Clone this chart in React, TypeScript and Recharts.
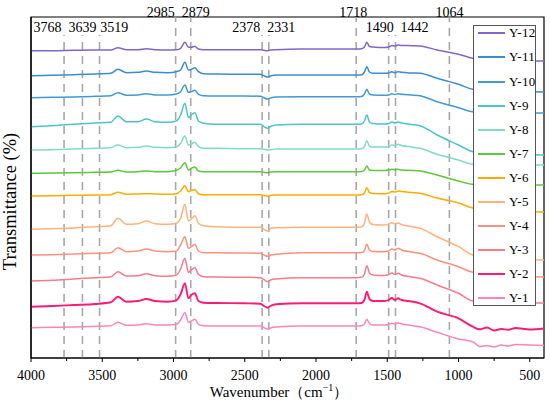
import React from 'react';
import { LineChart, Line, XAxis, YAxis, ReferenceLine, ReferenceArea, Legend } from 'recharts';

const WAVENUMBERS = [
  4000, 3850, 3700, 3550, 3440, 3390, 3330, 3250, 3190, 3130,
  3040, 2980, 2950, 2920, 2895, 2875, 2850, 2825, 2790, 2700,
  2500, 2390, 2365, 2340, 2315, 2280, 2100, 1900, 1720, 1680,
  1660, 1643, 1625, 1600, 1520, 1490, 1468, 1445, 1424, 1400,
  1330, 1270, 1150, 1000, 900, 850, 800, 750, 700, 650,
  600, 500, 400,
];

const Y12 = [
  307.3, 307.3, 307.7, 308, 308, 310.3, 308.3, 308.3, 309.3, 308.3,
  308, 308.3, 309.7, 315.7, 310.7, 310.7, 311.7, 309, 308.3, 308.3,
  308.3, 308.3, 307.7, 307.3, 308, 308.3, 309, 309, 309, 309.3,
  311, 315.7, 311.5, 311, 310.5, 311, 312.5, 312, 313, 312.5,
  312.3, 312, 308, 303.7, 299.7, 298.5, 298, 297.7, 297.5, 297.4,
  297.3, 297, 297,
];
const Y11 = [
  282.3, 282.7, 283.3, 284, 284.7, 288.7, 285.3, 285.7, 287, 285.7,
  285.3, 286.3, 288, 295.7, 288, 288.7, 290.3, 286.3, 284.3, 284,
  283.7, 283.7, 282.3, 281, 282.3, 283, 283, 283, 283, 283.3,
  286, 291.3, 286, 284.7, 284.7, 285, 286.3, 285.3, 286.3, 285.7,
  285, 284.7, 279.7, 273.7, 268.7, 268, 267.5, 267, 266.7, 266.6,
  266.5, 266.2, 266,
];
const Y10 = [
  260.3, 260.7, 261, 261.7, 262.3, 265.3, 262.7, 263, 264.3, 263,
  263, 264, 266.3, 273, 265.7, 266.3, 267.7, 263.7, 262.3, 262,
  262, 261.7, 260.3, 259, 260.3, 261, 261.3, 261.3, 261.3, 261.5,
  264, 268.7, 264, 263, 262.7, 263, 264.3, 263.5, 264.3, 263.7,
  263, 262.3, 256.3, 250.3, 246.3, 246, 245.8, 245.6, 245.4, 245.3,
  245.2, 245, 245,
];
const Y9 = [
  231.3, 232.3, 233.7, 235, 235.7, 242, 236.3, 236.3, 239, 236.3,
  235.7, 237, 243, 254.7, 240.3, 243, 245.3, 237, 234.7, 233.7,
  233.7, 233.7, 231.3, 229.7, 231.7, 233, 233.7, 233.7, 233.7, 234,
  237, 243, 236, 234.5, 234, 234.5, 236, 235, 236, 235,
  233.5, 232.3, 223, 213, 206.3, 205.5, 205, 204.5, 204, 203.8,
  203.7, 203.3, 203,
];
const Y8 = [
  208, 208.3, 209, 209.7, 210.3, 213, 210.3, 210.7, 212, 210.7,
  210.3, 211, 214.7, 222, 213, 214, 215.7, 211.3, 209.7, 209.7,
  209.3, 209.3, 208.7, 208, 208.3, 209, 209, 209, 209, 209.3,
  211.5, 217.3, 212, 211, 211, 211.5, 213, 212.5, 213.7, 212.5,
  211, 209.7, 203.7, 198, 193.7, 193.5, 193.3, 193.2, 193.1, 193,
  193, 193, 193,
];
const Y7 = [
  184.7, 185, 185.3, 185.7, 186, 187.7, 186, 186.3, 187, 186.3,
  186.3, 187.7, 190.3, 195.3, 188, 189.7, 191, 187, 186.3, 186.3,
  186.3, 186.3, 185.7, 185.3, 186, 186.3, 186.3, 186.3, 186.3, 186.5,
  188, 192, 188, 187.5, 187.5, 188, 188.7, 188.3, 188.7, 188,
  187.5, 187, 183, 177, 173.7, 173.5, 173.3, 173.2, 173.1, 173,
  173, 173, 173,
];
const Y6 = [
  162, 162.3, 162.7, 163, 163.3, 165.7, 163.7, 164, 164.3, 164,
  163.7, 164.3, 167, 172.3, 166.3, 167.7, 168.3, 164.3, 163.3, 163.3,
  163.3, 163.3, 162.3, 161.7, 162.7, 163, 163, 163, 163, 163.2,
  165, 170.3, 165.5, 164.5, 164.3, 165, 166.5, 166, 167, 166.5,
  165.5, 164.7, 160, 155, 150, 149, 148.3, 147.7, 147.2, 147,
  146.7, 146.3, 146,
];
const Y5 = [
  128.7, 129.3, 130, 131.3, 132.3, 139.7, 133.7, 134.3, 137, 134.3,
  133.7, 134.7, 139.7, 153.7, 137, 139, 142.3, 134.7, 132.3, 131.3,
  130.7, 130.7, 128.7, 127, 129.7, 130.3, 130.7, 130.7, 130.7, 131,
  135, 144, 136, 133.5, 133, 134, 135.3, 134, 135, 133.5,
  131.5, 129.7, 121.3, 111.3, 103, 101.5, 100.5, 99.7, 99, 98.7,
  98.5, 98.2, 98,
];
const Y4 = [
  103, 103.3, 104, 104.7, 105.3, 110.3, 106.3, 107, 109, 107,
  106.3, 107, 113, 121.3, 109.7, 111.3, 113.7, 107, 105.3, 105.3,
  105, 104.7, 103, 101.7, 103, 103.7, 105.3, 105.3, 105.3, 105.5,
  107.5, 113.7, 108, 106.5, 106.3, 107, 109, 108, 109.7, 108,
  106, 104.7, 98, 91.3, 85.7, 84.5, 83.5, 82.7, 82, 81.7,
  81.5, 81.2, 81,
];
const Y3 = [
  77, 77.7, 79, 80.3, 81.3, 86.3, 82, 82.3, 84.3, 82.3,
  81.7, 83, 89, 99.7, 85.7, 88, 90.3, 83.7, 81.3, 81,
  80.7, 80.3, 78.3, 76.3, 78.3, 79, 80.3, 80.3, 80.3, 80.7,
  84, 92.3, 85, 83, 82.5, 83.5, 85, 83.5, 84.7, 83,
  81, 79.7, 73, 64.7, 57, 56.5, 56, 55.7, 55.5, 55.4,
  55.3, 55.1, 55,
];
const Y2 = [
  51.3, 52, 53, 54, 55.7, 61.3, 56.3, 57, 59, 57,
  56.3, 57.7, 63.7, 74.7, 59.7, 63, 64.7, 57, 55.3, 55,
  54.7, 54.3, 52, 50.3, 52.3, 53.7, 54.7, 54.7, 54.7, 55,
  58, 66.3, 59, 57, 57, 58, 60, 58, 59.7, 58,
  56.5, 54.7, 46.3, 39.7, 31.3, 28.7, 30.5, 27.5, 29, 28.3,
  30, 28.5, 29.5,
];
const Y1 = [
  30.3, 30.7, 31, 31.7, 32.3, 35.7, 32.7, 33, 34.3, 33,
  33, 33.7, 38, 45.3, 35.7, 37, 38.7, 33.7, 32.3, 32,
  32, 32, 30.3, 29, 30.3, 31, 32, 32, 32, 32.3,
  34, 38.7, 34.5, 33, 33, 33.5, 34.7, 34, 35, 34,
  32.5, 31.3, 25.7, 19, 16.3, 11.5, 12.5, 11, 13, 12,
  13.5, 13, 12.5,
];

const SERIES_NAMES = ['Y-1', 'Y-2', 'Y-3', 'Y-4', 'Y-5', 'Y-6', 'Y-7', 'Y-8', 'Y-9', 'Y-10', 'Y-11', 'Y-12'];
const SERIES_VALUES = [Y1, Y2, Y3, Y4, Y5, Y6, Y7, Y8, Y9, Y10, Y11, Y12];
const SERIES_COLORS = [
  '#ff85b8', '#ff1a78', '#f87a8c', '#fb927c', '#ffb27e', '#ffaa00',
  '#5cc83a', '#80dcc4', '#4cc4c8', '#3f9ad8', '#3a8cd8', '#8066cc',
];

const X_TICKS = [4000, 3750, 3500, 3250, 3000, 2750, 2500, 2250, 2000, 1750, 1500, 1250, 1000, 750, 500];
const PEAKS = [3768, 3639, 3519, 2985, 2879, 2378, 2331, 1718, 1490, 1442, 1064];
const PEAK_LABELS = ['3768', '3639', '3519', '2985', '2879', '2378', '2331', '1718', '1490', '1442', '1064'];
const PEAK_OUTSIDE = [false, false, false, true, true, false, false, true, false, false, true];

const PEAK_DX = [-16.5, 0, 14.6, -15, 5, -16, 12.5, -3, -9, 19, 0];

const Y_MAX = 341;
const INNER_TOP = 323;

const FONT = 'Liberation Serif, DejaVu Serif, serif';

const data = WAVENUMBERS.map((wn, i) => {
  const row: Record<string, number> = { wn };
  SERIES_NAMES.forEach((name, k) => {
    row[name] = SERIES_VALUES[k][i];
  });
  return row;
});

const XTick = (props: any) => {
  const { x, y, payload } = props;
  const major = payload.value % 500 === 0;
  return (
    <g>
      <line x1={x} x2={x} y1={y} y2={y + (major ? 4 : 3)} stroke="#000" strokeWidth={1} />
      {major && (
        <text x={x} y={y + 22} textAnchor="middle" style={{ fontFamily: FONT, fontSize: 14 }} fill="#000">
          {payload.value}
        </text>
      )}
    </g>
  );
};

const XTitle = (props: any) => {
  const vb = props.viewBox || { x: 31, y: 358, width: 513, height: 45 };
  const cx = vb.x + vb.width / 2 - 8.5;
  const cy = vb.y + 39;
  return (
    <text x={cx} y={cy} textAnchor="middle" style={{ fontFamily: FONT, fontSize: 15 }} fill="#000">
      <tspan>Wavenumber（cm</tspan>
      <tspan dy={-6} style={{ fontSize: 10 }}>−1</tspan>
      <tspan dy={6}>）</tspan>
    </text>
  );
};

const YTitle = (props: any) => {
  const vb = props.viewBox || { x: 0, y: 17, width: 31, height: 341 };
  const cx = vb.x + 15.5;
  const cy = vb.y + vb.height / 2 + 14;
  return (
    <text
      x={cx}
      y={cy}
      textAnchor="middle"
      style={{ fontFamily: FONT, fontSize: 18.5 }}
      fill="#000"
      transform={`rotate(-90, ${cx}, ${cy})`}
    >
      Transmittance (%)
    </text>
  );
};

const makePeakLabel = (text: string, dx: number, outside: boolean) => (props: any) => {
  const vb = props.viewBox || { x: 0, y: 0 };
  return (
    <text
      x={vb.x + dx}
      y={vb.y + (outside ? -0.5 : -3.5)}
      textAnchor="middle"
      style={{ fontFamily: FONT, fontSize: 14 }}
      fill="#000"
    >
      {text}
    </text>
  );
};

const LegendBox = () => {
  const items = SERIES_NAMES.map((name, i) => ({ name, color: SERIES_COLORS[i] })).reverse();
  return (
    <div
      style={{
        position: 'relative',
        width: 63,
        height: 281,
        boxSizing: 'border-box',
        border: '1px solid #555',
        background: '#fff',
      }}
    >
      {items.map((it, i) => (
        <div
          key={it.name}
          style={{
            position: 'absolute',
            left: 0,
            top: 8.3 + i * 24.1 - 1 - 8,
            height: 16,
            display: 'flex',
            alignItems: 'center',
            whiteSpace: 'nowrap',
          }}
        >
          <span style={{ display: 'inline-block', marginLeft: 4, width: 27, height: 2, background: it.color }} />
          <span
            style={{
              marginLeft: 4,
              fontFamily: FONT,
              fontSize: 13,
              color: '#000',
              letterSpacing: 0.3,
              lineHeight: '16px',
            }}
          >
            {it.name}
          </span>
        </div>
      ))}
    </div>
  );
};

export default function App() {
  return (
    <div style={{ position: 'absolute', left: 0, top: 0, width: 550, height: 403, background: '#fff' }}>
      <LineChart width={550} height={403} data={data} margin={{ top: 17, right: 6, bottom: 0, left: 0 }}>
        <XAxis
          dataKey="wn"
          type="number"
          domain={[400, 4000]}
          reversed
          ticks={X_TICKS}
          interval={0}
          tickLine={false}
          tickSize={0}
          tickMargin={0}
          tick={<XTick />}
          height={45}
          axisLine={{ stroke: '#000', strokeWidth: 1.2 }}
          allowDataOverflow
          label={<XTitle />}
        />
        <YAxis
          type="number"
          domain={[0, Y_MAX]}
          tick={false}
          tickLine={false}
          width={31}
          axisLine={{ stroke: '#000', strokeWidth: 1.2 }}
          allowDataOverflow
          label={<YTitle />}
        />
        <ReferenceArea
          x1={400}
          x2={4000}
          y1={0}
          y2={Y_MAX}
          fill="none"
          stroke="#000"
          strokeWidth={1.2}
          ifOverflow="visible"
        />
        {PEAKS.map((p, i) => (
          <ReferenceLine
            key={p}
            segment={[
              { x: p, y: 0 },
              { x: p, y: PEAK_OUTSIDE[i] ? Y_MAX : INNER_TOP },
            ]}
            stroke="#a8a8a8"
            strokeWidth={1.6}
            strokeDasharray="8 6"
            ifOverflow="visible"
            label={makePeakLabel(PEAK_LABELS[i], PEAK_DX[i], PEAK_OUTSIDE[i])}
          />
        ))}
        {SERIES_NAMES.map((name, i) => (
          <Line
            key={name}
            dataKey={name}
            type="monotone"
            stroke={SERIES_COLORS[i]}
            strokeWidth={name === 'Y-2' ? 1.9 : 1.5}
            dot={false}
            activeDot={false}
            isAnimationActive={false}
          />
        ))}
        <Legend
          layout="vertical"
          align="center"
          verticalAlign="middle"
          wrapperStyle={{ left: 473, top: 25, width: 63, height: 281 }}
          content={() => <LegendBox />}
        />
      </LineChart>
    </div>
  );
}
